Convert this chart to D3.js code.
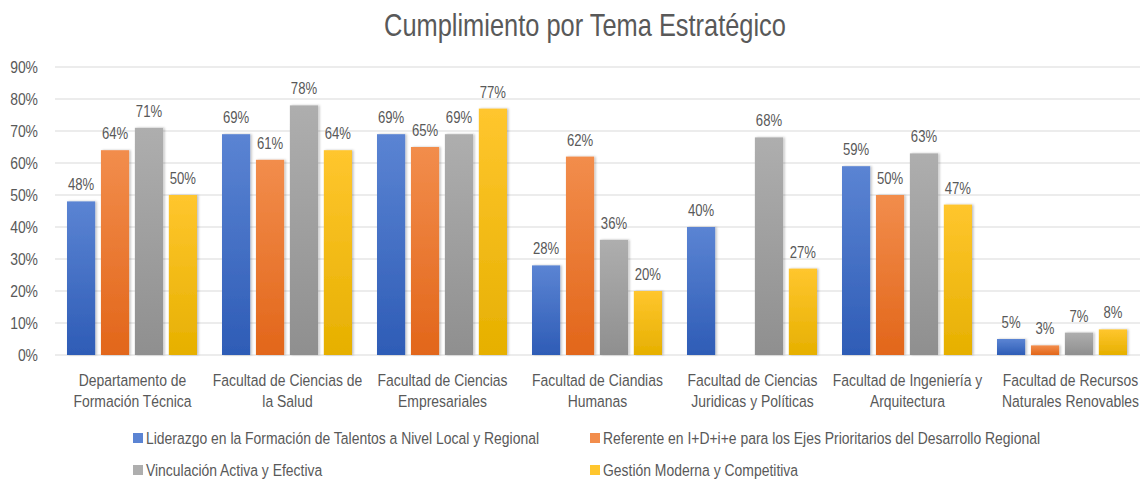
<!DOCTYPE html>
<html>
<head>
<meta charset="utf-8">
<script src="https://cdn.jsdelivr.net/npm/d3@7"></script>
<style>
  body { margin: 0; background: #fff; }
  text { font-family: "Liberation Sans", Arial, sans-serif; fill: #595959; }
</style>
</head>
<body>
<div id="chart-area"></div>
<script>
// Data
let categories = [
	["Departamento de", "Formación Técnica"],
	["Facultad de Ciencias de", "la Salud"],
	["Facultad de Ciencias", "Empresariales"],
	["Facultad de Ciandias", "Humanas"],
	["Facultad de Ciencias", "Juridicas y Políticas"],
	["Facultad de Ingeniería y", "Arquitectura"],
	["Facultad de Recursos", "Naturales Renovables"]
];
let seriesNames = [
	"Liderazgo en la Formación de Talentos a Nivel Local y Regional",
	"Referente en I+D+i+e para los Ejes Prioritarios del Desarrollo Regional",
	"Vinculación Activa y Efectiva",
	"Gestión Moderna y Competitiva"
];
let liderazgo   = [48, 69, 69, 28, 40, 59, 5];
let referente   = [64, 61, 65, 62, null, 50, 3];
let vinculacion = [71, 78, 69, 36, 68, 63, 7];
let gestion     = [50, 64, 77, 20, 27, 47, 8];
let yTicks = [0, 10, 20, 30, 40, 50, 60, 70, 80, 90];

let series = [liderazgo, referente, vinculacion, gestion];
let colors = [
	{top: "#5b84d3", bottom: "#2e5cb6"},
	{top: "#f28d4c", bottom: "#e2661a"},
	{top: "#aeaeae", bottom: "#8f8f8f"},
	{top: "#ffc62e", bottom: "#e6b000"}
];

// narrow font look: squeeze text horizontally around its x anchor
let K = 0.82;
function condense(sel) {
	sel.attr("transform", function() {
		let x = +this.getAttribute("x") || 0;
		return "translate(" + x + ",0) scale(" + K + ",1) translate(" + (-x) + ",0)";
	});
}

let W = 1143, H = 481;
let margin = {top: 67, right: 3, bottom: 126, left: 55};
let width = W - margin.left - margin.right;
let height = H - margin.top - margin.bottom;

let root = d3.select("#chart-area").append("svg")
	.attr("width", W)
	.attr("height", H);

let defs = root.append("defs");
colors.forEach(function(c, i) {
	let g = defs.append("linearGradient")
		.attr("id", "grad" + i)
		.attr("x1", 0).attr("y1", 0).attr("x2", 0).attr("y2", 1);
	g.append("stop").attr("offset", "0%").attr("stop-color", c.top);
	g.append("stop").attr("offset", "100%").attr("stop-color", c.bottom);
});
let f = defs.append("filter").attr("id", "shadow")
	.attr("x", "-20%").attr("y", "-20%").attr("width", "150%").attr("height", "140%");
f.append("feDropShadow").attr("dx", 1.5).attr("dy", 0).attr("stdDeviation", 1.2)
	.attr("flood-color", "#000").attr("flood-opacity", 0.25);

// Title
root.append("text")
	.attr("x", 585)
	.attr("y", 36)
	.attr("text-anchor", "middle")
	.style("font-size", "31px")
	.text("Cumplimiento por Tema Estratégico")
	.call(condense);

let svg = root.append("g")
	.attr("transform", "translate(" + margin.left + "," + margin.top + ")");

/** Scales */
let x0 = d3.scaleBand()
	.domain(d3.range(categories.length))
	.range([0, width]);

let x1 = d3.scaleBand()
	.domain(d3.range(series.length))
	.range([12, x0.bandwidth() - 13])
	.paddingInner(0.17);

let y = d3.scaleLinear()
	.domain([0, 90])
	.range([height, 0]);

/** Gridlines */
svg.selectAll(".grid")
	.data(yTicks)
	.enter()
	.append("line")
	.attr("x1", 0)
	.attr("x2", width)
	.attr("y1", function(d) { return y(d); })
	.attr("y2", function(d) { return y(d); })
	.attr("stroke", "#d9d9d9")
	.attr("stroke-width", 1);

/** Y axis labels */
let yAxis = d3.axisLeft(y)
	.tickValues(yTicks)
	.tickSize(0)
	.tickPadding(17)
	.tickFormat(function(d) { return d + "%"; });

svg.append("g")
	.attr("class", "axis yAxis")
	.call(yAxis)
	.call(function(g) { g.select(".domain").remove(); })
	.selectAll("text")
	.style("font-size", "17px")
	.style("font-family", "'Liberation Sans', Arial, sans-serif")
	.style("fill", "#595959")
	.call(condense);

/** Bars */
let groups = svg.selectAll(".group")
	.data(categories)
	.enter()
	.append("g")
	.attr("transform", function(d, i) { return "translate(" + x0(i) + ",0)"; });

groups.each(function(cat, ci) {
	let g = d3.select(this);
	let vals = series.map(function(s, si) { return {si: si, v: s[ci]}; })
		.filter(function(d) { return d.v !== null; });

	g.selectAll("rect")
		.data(vals)
		.enter()
		.append("rect")
		.attr("x", function(d) { return x1(d.si); })
		.attr("y", function(d) { return y(d.v); })
		.attr("width", x1.bandwidth())
		.attr("height", function(d) { return height - y(d.v); })
		.attr("fill", function(d) { return "url(#grad" + d.si + ")"; })
		.attr("filter", "url(#shadow)");

	g.selectAll(".val")
		.data(vals)
		.enter()
		.append("text")
		.attr("x", function(d) { return x1(d.si) + x1.bandwidth() / 2; })
		.attr("y", function(d) { return y(d.v) - 11; })
		.attr("text-anchor", "middle")
		.style("font-size", "16px")
		.text(function(d) { return d.v + "%"; })
		.call(condense);

	g.selectAll(".cat")
		.data(cat)
		.enter()
		.append("text")
		.attr("x", x0.bandwidth() / 2 + (ci === categories.length - 1 ? 8 : 0))
		.attr("y", function(d, li) { return height + 31 + li * 21; })
		.attr("text-anchor", "middle")
		.style("font-size", "17px")
		.text(function(d) { return d; })
		.call(condense);
});

/** Legend */
let legendPos = [[133, 438], [590, 438], [133, 470], [590, 470]];
let legend = root.selectAll(".legend")
	.data(seriesNames)
	.enter()
	.append("g")
	.attr("transform", function(d, i) { return "translate(" + legendPos[i][0] + "," + legendPos[i][1] + ")"; });

legend.append("rect")
	.attr("x", 0).attr("y", -5)
	.attr("width", 10).attr("height", 10)
	.attr("fill", function(d, i) { return colors[i].top; });

legend.append("text")
	.attr("x", 13)
	.attr("y", 6)
	.style("font-size", "17px")
	.text(function(d) { return d; })
	.call(condense);
</script>
</body>
</html>
